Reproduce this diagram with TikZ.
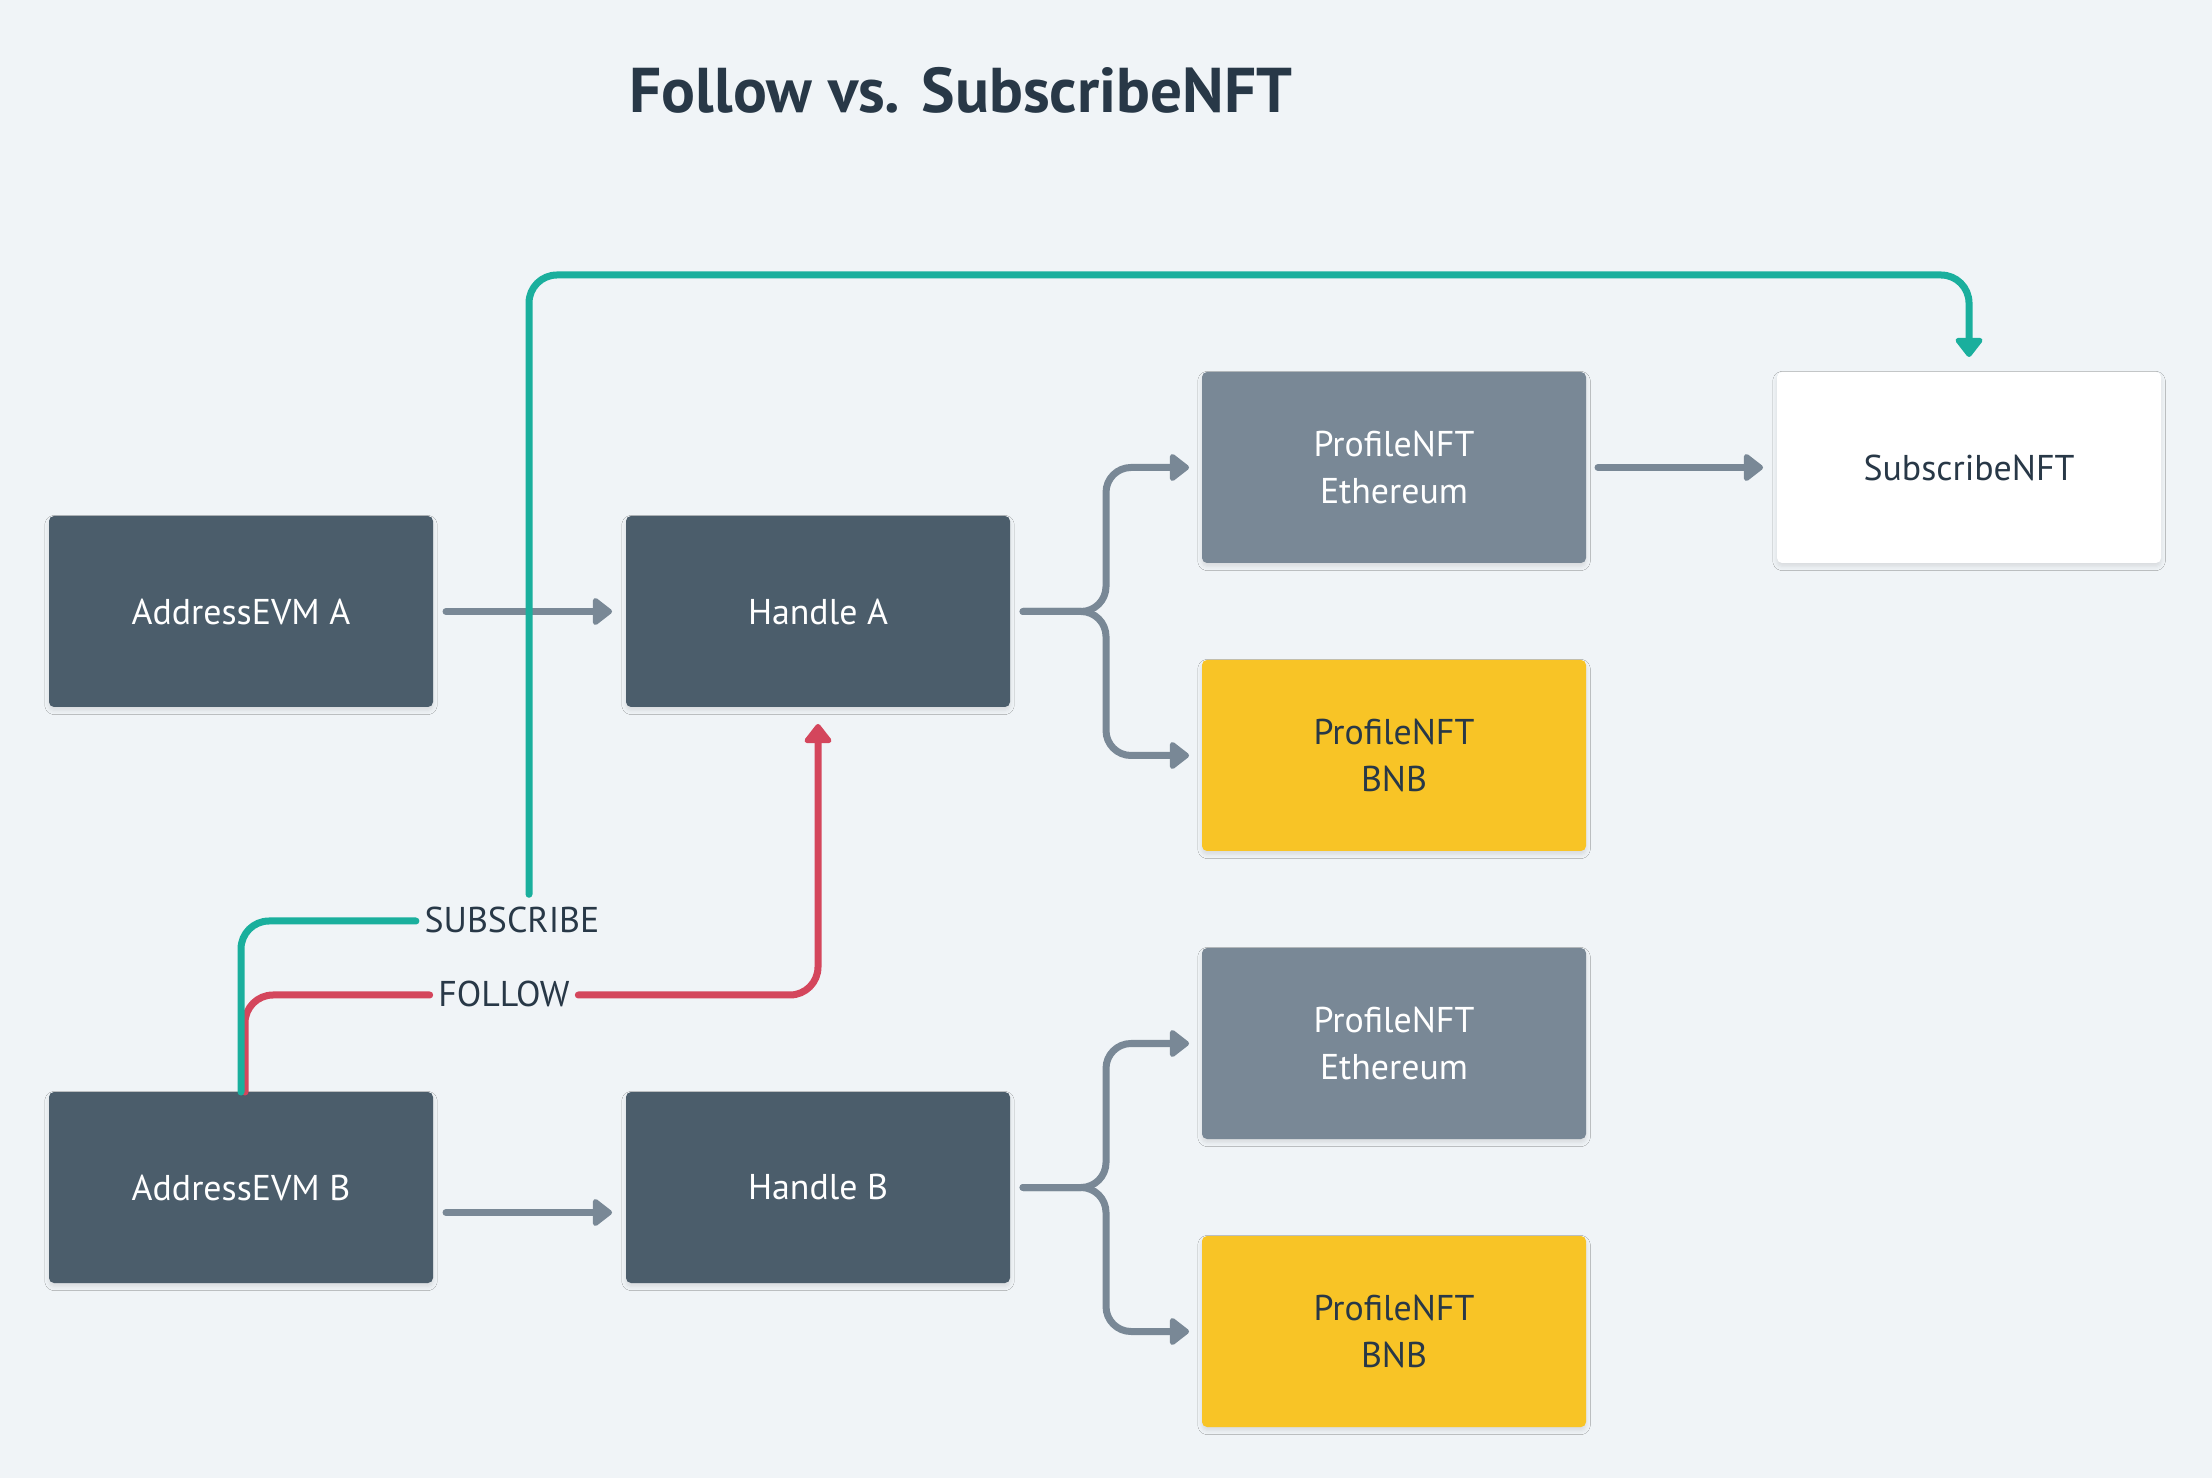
\documentclass[tikz,border=0pt]{standalone}
\usepackage{fontspec}
\setmainfont{PT Sans}
\usetikzlibrary{arrows.meta, positioning, shadows.blur}

\definecolor{bgcol}{HTML}{F0F4F7}
\definecolor{darkcol}{HTML}{4B5D6B}
\definecolor{graycol}{HTML}{798896}
\definecolor{yellowcol}{HTML}{F8C426}
\definecolor{inkcol}{HTML}{283847}
\definecolor{tealcol}{HTML}{1AAF9D}
\definecolor{redcol}{HTML}{D4465C}

\begin{document}
\begin{tikzpicture}[
  box/.style={rounded corners=0.05cm, minimum width=3.84cm, minimum height=1.91cm, inner sep=0, outer sep=0, align=center, font=\fontsize{10.2pt}{13.6pt}\selectfont, blur shadow={shadow xshift=0pt, shadow yshift=-1pt, shadow blur radius=1.2pt, shadow blur extra rounding=0.05cm, shadow opacity=10}},
  darkbox/.style={box, fill=darkcol, text=white},
  graybox/.style={box, fill=graycol, text=white},
  yellowbox/.style={box, fill=yellowcol, text=inkcol},
  whitebox/.style={box, fill=white, text=inkcol},
  lbl/.style={text=inkcol, font=\fontsize{10.2pt}{12pt}\selectfont, text height=0.24cm, text depth=0pt, inner xsep=0.08cm, inner ysep=0.14cm},
  title/.style={text=inkcol, font=\fontsize{18pt}{21pt}\selectfont\bfseries, inner sep=0},
  tip/.style={-{Triangle[length=0.21cm, width=0.31cm, round]}},
  flow/.style={line width=0.07cm, graycol, line cap=round, rounded corners=0.25cm, tip},
  subscribe/.style={line width=0.07cm, tealcol, line cap=round, rounded corners=0.28cm},
  follow/.style={line width=0.07cm, redcol, line cap=round, rounded corners=0.28cm}
]
% Canvas
\fill[bgcol] (0,0) rectangle (22.12,14.78);
\useasboundingbox (0,0) rectangle (22.12,14.78);

% Title
\node[title, anchor=base west] (title) at (6.29,13.65) {Follow vs. SubscribeNFT};

% Address A branch
\node[darkbox] (addrA) at (2.41,8.665) {AddressEVM A};
\node[darkbox, right=1.93cm of addrA] (handleA) {Handle A};
\node[graybox, right=1.92cm of handleA, yshift=1.44cm] (ethA) {ProfileNFT\\Ethereum};
\node[yellowbox, below=0.97cm of ethA] (bnbA) {ProfileNFT\\BNB};
\node[whitebox, right=1.91cm of ethA] (subnft) {SubscribeNFT};

% Address B branch
\node[darkbox, below=3.85cm of addrA] (addrB) {AddressEVM B};
\node[darkbox, right=1.93cm of addrB] (handleB) {Handle B};
\node[graybox, below=0.97cm of bnbA] (ethB) {ProfileNFT\\Ethereum};
\node[yellowbox, below=0.97cm of ethB] (bnbB) {ProfileNFT\\BNB};

% Edge labels
\node[lbl] (sublbl) at (5.12,5.57) {SUBSCRIBE};
\node[lbl] (follbl) at (5.04,4.83) {FOLLOW};
\coordinate (subtop) at (5.29,12.03);

% Address to handle
\draw[flow, shorten <=0.13cm, shorten >=0.14cm] (addrA) -- (handleA);
\draw[flow, shorten <=0.13cm, shorten >=0.14cm] ([yshift=-0.25cm]addrB.east) -- ([yshift=-0.25cm]handleB.west);

% Handle to ProfileNFTs
\draw[flow, shorten >=0.13cm] ([xshift=0.13cm]handleA.east) -- ++(0.83,0) |- (ethA.west);
\draw[flow, shorten >=0.13cm] ([xshift=0.13cm]handleA.east) -- ++(0.83,0) |- (bnbA.west);
\draw[flow, shorten >=0.13cm] ([xshift=0.13cm]handleB.east) -- ++(0.83,0) |- (ethB.west);
\draw[flow, shorten >=0.13cm] ([xshift=0.13cm]handleB.east) -- ++(0.83,0) |- (bnbB.west);

% ProfileNFT to SubscribeNFT
\draw[flow, shorten <=0.12cm, shorten >=0.14cm] (ethA) -- (subnft);

% Follow
\draw[follow] ([xshift=0.04cm]addrB.north) |- (follbl.west);
\draw[follow, tip, shorten >=0.17cm] (follbl.east) -| (handleA.south);

% Subscribe
\draw[subscribe] (addrB.north) |- (sublbl.west);
\draw[subscribe, tip, shorten >=0.15cm] (sublbl.north -| subtop) -- (subtop) -| (subnft.north);

\end{tikzpicture}
\end{document}
